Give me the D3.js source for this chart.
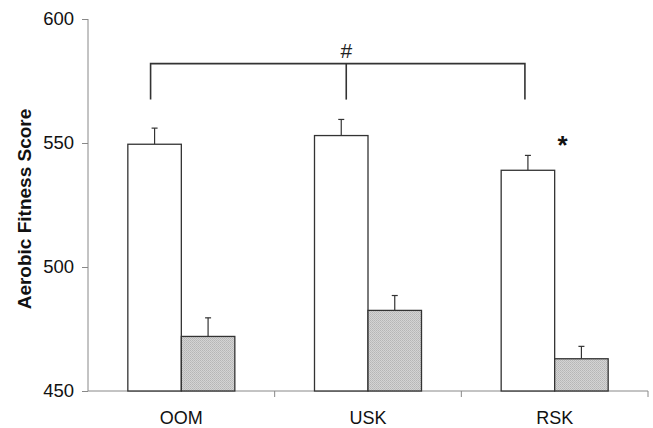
<!DOCTYPE html>
<html>
<head>
<meta charset="utf-8">
<script src="https://cdn.jsdelivr.net/npm/d3@7/dist/d3.min.js"></script>
<style>
  html, body { margin: 0; padding: 0; background: #fff; }
  svg { display: block; font-family: "Liberation Sans", Arial, sans-serif; }
</style>
</head>
<body>
<div id="chart"></div>
<script>
const categories = ['OOM', 'USK', 'RSK'];
const seriesA = [549.5, 553, 539];      // white bars
const seriesAErr = [6.5, 6.5, 6];
const seriesB = [472, 482.5, 463];      // stippled bars
const seriesBErr = [7.5, 6, 5];
const yTicks = [450, 500, 550, 600];
const bracketCats = ['OOM', 'USK', 'RSK'];
const bracketLevel = [582, 567.5];       // top line, bottom of legs (data units)

const width = 653;
const height = 428;
const margin = { top: 19, right: 5, bottom: 37, left: 88 };

const svg = d3.select('#chart')
  .append('svg')
  .attr('width', width)
  .attr('height', height);

// stipple pattern for the grey bars
const defs = svg.append('defs');
const pat = defs.append('pattern')
  .attr('id', 'stip')
  .attr('width', 2)
  .attr('height', 2)
  .attr('patternUnits', 'userSpaceOnUse');
pat.append('rect').attr('width', 2).attr('height', 2).attr('fill', '#d4d4d4');
pat.append('rect').attr('width', 1).attr('height', 1).attr('fill', '#b6b6b6');
pat.append('rect').attr('x', 1).attr('y', 1).attr('width', 1).attr('height', 1).attr('fill', '#bebebe');

const x = d3.scaleBand()
  .domain(categories)
  .range([margin.left, width - margin.right])
  .paddingInner(0)
  .paddingOuter(0);

const y = d3.scaleLinear()
  .domain([450, 600])
  .range([height - margin.bottom, margin.top]);

const barW = 53.5;
const axisColor = '#888';
const lineColor = '#333';

// axes
const axisY = svg.append('g')
  .attr('transform', `translate(${margin.left},0)`)
  .call(d3.axisLeft(y).tickValues(yTicks).tickSize(6).tickPadding(8).tickFormat(d3.format('d')));
axisY.select('.domain').attr('stroke', axisColor).attr('d', `M0,${y(450)}V${y(600)}`);
axisY.selectAll('line').attr('stroke', axisColor);
axisY.selectAll('text').attr('font-size', '18.5px').attr('fill', '#111');

const axisX = svg.append('g')
  .attr('transform', `translate(0,${y(450)})`)
  .call(d3.axisBottom(x).tickSize(0).tickPadding(0).tickFormat(''));
axisX.select('.domain').attr('stroke', axisColor).attr('d', `M${margin.left},0H${width - margin.right}`);
axisX.selectAll('.tick').remove();
// tick separators between categories
axisX.selectAll('line.sep')
  .data(categories)
  .join('line')
  .attr('class', 'sep')
  .attr('x1', (d) => x(d) + x.bandwidth())
  .attr('x2', (d) => x(d) + x.bandwidth())
  .attr('y1', 0)
  .attr('y2', 6)
  .attr('stroke', axisColor);

svg.append('g')
  .selectAll('text')
  .data(categories)
  .join('text')
  .attr('x', (d) => x(d) + x.bandwidth() / 2)
  .attr('y', 424)
  .attr('text-anchor', 'middle')
  .attr('font-size', '18px')
  .attr('fill', '#111')
  .text((d) => d);

// bars
const rows = categories.map((c, i) => ({
  cat: c, a: seriesA[i], ae: seriesAErr[i], b: seriesB[i], be: seriesBErr[i],
}));

const bars = svg.append('g');
const center = (d) => x(d.cat) + x.bandwidth() / 2;

// error bars (drawn under the bars)
const errs = [
  ...rows.map((d) => ({ cx: center(d) - barW / 2, v: d.a, e: d.ae })),
  ...rows.map((d) => ({ cx: center(d) + barW / 2, v: d.b, e: d.be })),
];
bars.selectAll('line.err')
  .data(errs)
  .join('line')
  .attr('class', 'err')
  .attr('x1', (d) => d.cx)
  .attr('x2', (d) => d.cx)
  .attr('y1', (d) => y(d.v))
  .attr('y2', (d) => y(d.v + d.e))
  .attr('stroke', lineColor)
  .attr('stroke-width', 1.2);
bars.selectAll('line.cap')
  .data(errs)
  .join('line')
  .attr('class', 'cap')
  .attr('x1', (d) => d.cx - 3)
  .attr('x2', (d) => d.cx + 3)
  .attr('y1', (d) => y(d.v + d.e))
  .attr('y2', (d) => y(d.v + d.e))
  .attr('stroke', lineColor)
  .attr('stroke-width', 1.2);

bars.selectAll('rect.a')
  .data(rows)
  .join('rect')
  .attr('class', 'a')
  .attr('x', (d) => center(d) - barW)
  .attr('y', (d) => y(d.a))
  .attr('width', barW)
  .attr('height', (d) => y(450) - y(d.a))
  .attr('fill', '#fff')
  .attr('stroke', lineColor)
  .attr('stroke-width', 1.3);

bars.selectAll('rect.b')
  .data(rows)
  .join('rect')
  .attr('class', 'b')
  .attr('x', (d) => center(d))
  .attr('y', (d) => y(d.b))
  .attr('width', barW)
  .attr('height', (d) => y(450) - y(d.b))
  .attr('fill', 'url(#stip)')
  .attr('stroke', lineColor)
  .attr('stroke-width', 1.3);

// significance bracket over the white bars
const bx = bracketCats.map((c) => x(c) + x.bandwidth() / 2 - barW / 2);
bx[0] -= 4; bx[1] += 5; bx[2] -= 3;
const br = svg.append('g').attr('stroke', lineColor).attr('stroke-width', 1.6).attr('fill', 'none');
br.append('path')
  .attr('d', `M${bx[0]},${y(bracketLevel[1])}V${y(bracketLevel[0])}H${bx[2]}V${y(bracketLevel[1])}`);
br.append('line')
  .attr('x1', bx[1]).attr('x2', bx[1])
  .attr('y1', y(bracketLevel[0])).attr('y2', y(bracketLevel[1]));

svg.append('text')
  .attr('x', bx[1])
  .attr('y', y(bracketLevel[0]) - 6)
  .attr('text-anchor', 'middle')
  .attr('font-size', '21px')
  .attr('fill', '#222')
  .text('#');

svg.append('text')
  .attr('x', x('RSK') + x.bandwidth() / 2 + 8)
  .attr('y', y(545.5))
  .attr('text-anchor', 'middle')
  .attr('font-size', '26px')
  .attr('font-weight', 'bold')
  .attr('fill', '#111')
  .text('*');

// y axis title
svg.append('text')
  .attr('transform', `translate(31,${(y(450) + y(600)) / 2 + 4}) rotate(-90)`)
  .attr('text-anchor', 'middle')
  .attr('font-size', '19px')
  .attr('font-weight', 'bold')
  .attr('fill', '#111')
  .text('Aerobic Fitness Score');
</script>
</body>
</html>
